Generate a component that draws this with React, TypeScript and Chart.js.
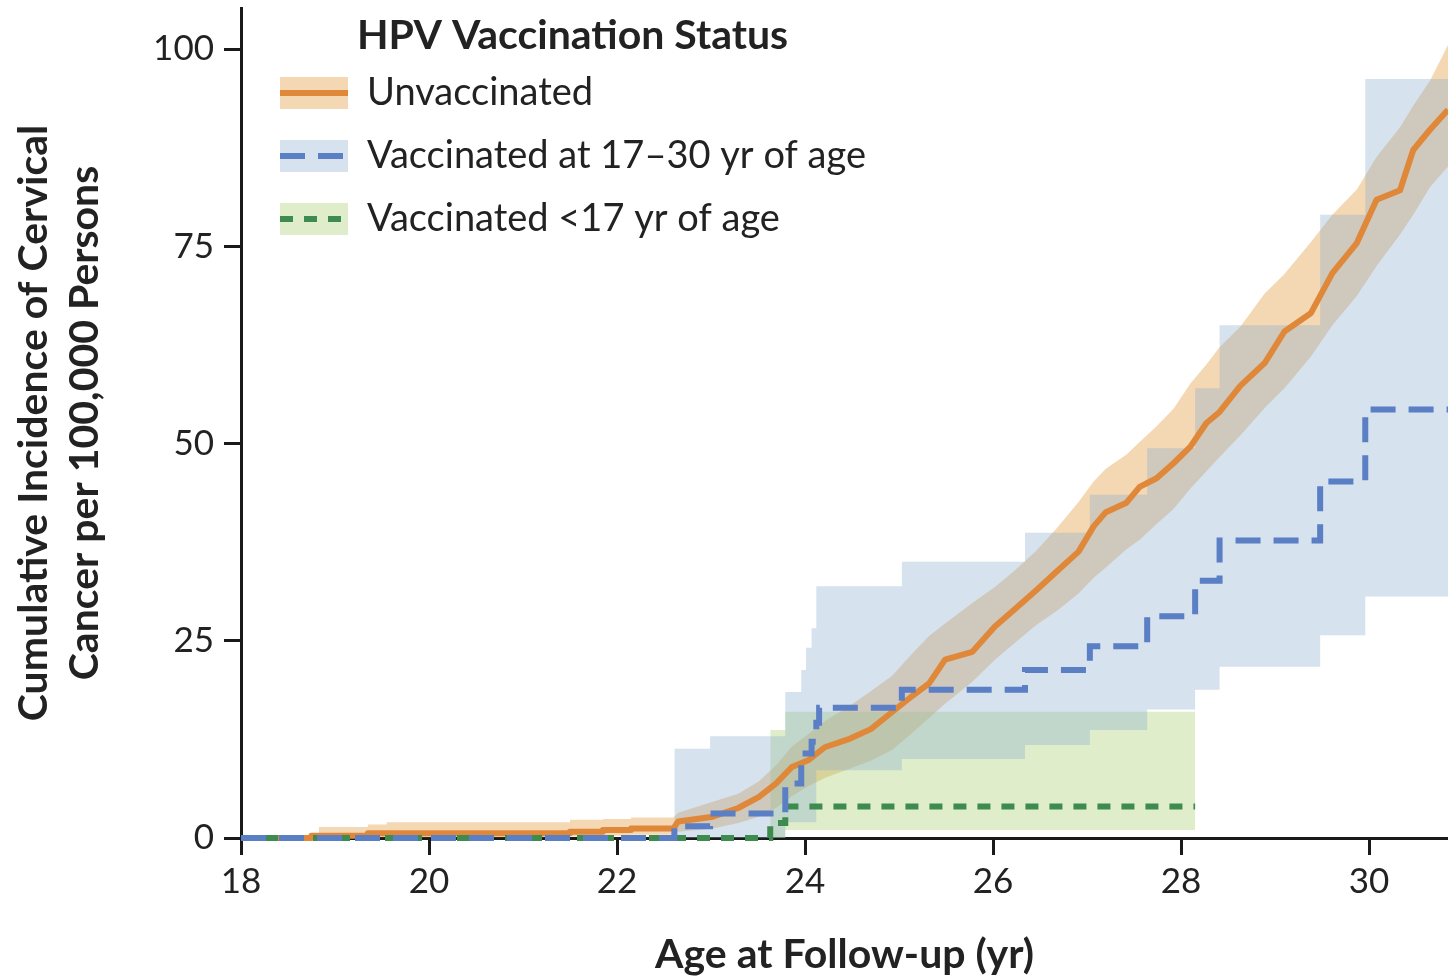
import React, { useEffect, useRef } from 'react';
import { Chart, registerables } from 'chart.js';

Chart.register(...registerables);

const FONT = 'Lato, "Open Sans", sans-serif';

// Axis ticks
const xTicks = [18, 20, 22, 24, 26, 28, 30];
const yTicks = [0, 25, 50, 75, 100];

// Unvaccinated: cumulative incidence and 95% CI
const unvAges = [18.0, 18.75, 18.75, 18.83, 18.83, 19.35, 19.35, 19.55, 19.55, 21.5, 21.5, 21.85, 21.85, 22.15, 22.15, 22.6, 22.65, 23.02, 23.29, 23.51, 23.69, 23.86, 24.04, 24.21, 24.48, 24.7, 24.93, 25.14, 25.32, 25.49, 25.78, 26.02, 26.24, 26.46, 26.68, 26.91, 27.07, 27.2, 27.42, 27.56, 27.74, 27.92, 28.1, 28.27, 28.41, 28.63, 28.89, 29.1, 29.38, 29.61, 29.87, 30.08, 30.33, 30.47, 30.65, 30.84];
const unvEst = [0, 0, 0.3, 0.3, 0.3, 0.3, 0.6, 0.6, 0.6, 0.6, 0.8, 0.8, 1.0, 1.0, 1.2, 1.2, 2.1, 2.7, 3.8, 5.2, 6.9, 9.0, 9.9, 11.5, 12.6, 13.8, 16.0, 18.0, 19.6, 22.6, 23.6, 26.8, 29.1, 31.4, 33.8, 36.3, 39.5, 41.3, 42.5, 44.5, 45.6, 47.5, 49.6, 52.6, 54.0, 57.3, 60.2, 64.2, 66.5, 71.6, 75.4, 80.9, 82.1, 87.2, 89.8, 92.3];
const unvLower = [0, 0, 0, 0, 0, 0, 0.1, 0.1, 0.1, 0.1, 0.2, 0.2, 0.3, 0.3, 0.4, 0.4, 0.8, 1.2, 1.9, 2.7, 3.8, 5.3, 6.6, 7.6, 8.8, 9.8, 11.2, 13.3, 15.2, 17.0, 19.8, 22.6, 24.8, 27.0, 28.8, 31.0, 33.0, 34.3, 36.6, 37.8, 39.8, 41.7, 44.3, 46.5, 48.3, 51.0, 54.5, 57.0, 61.0, 65.0, 68.7, 72.5, 76.5, 79.0, 82.5, 85.1];
const unvUpper = [0, 0, 0, 0, 1.4, 1.4, 1.7, 1.7, 2.0, 2.0, 2.3, 2.3, 2.4, 2.4, 2.6, 2.6, 3.2, 4.6, 5.6, 7.2, 9.2, 11.6, 13.2, 14.8, 16.8, 18.6, 20.6, 23.4, 25.6, 27.2, 29.8, 31.8, 34.0, 36.4, 39.3, 42.6, 45.2, 46.8, 48.6, 50.2, 52.2, 54.4, 57.6, 60.0, 62.2, 64.8, 69.0, 71.5, 75.5, 79.0, 82.2, 86.3, 90.1, 92.8, 96.0, 100.5];

// Vaccinated at 17-30 yr of age
const v1730Ages = [18.0, 22.61, 22.99, 23.79, 23.96, 24.07, 24.12, 24.15, 25.03, 26.34, 27.03, 27.64, 28.15, 28.41, 29.48, 29.96, 30.84];
const v1730Est = [0, 1.5, 3.1, 6.9, 10.7, 12.2, 14.6, 16.5, 18.8, 21.3, 24.3, 28.1, 32.6, 37.7, 45.2, 54.3, 54.3];
const v1730BandAges = [22.61, 22.99, 23.79, 23.96, 24.01, 24.07, 24.12, 25.03, 26.34, 27.03, 27.64, 28.15, 28.41, 29.48, 29.96, 30.84];
const v1730Lower = [0, 0, 2.0, 2.0, 2.0, 2.0, 8.6, 10.0, 11.8, 13.7, 16.3, 18.8, 21.7, 25.7, 30.6, 30.6];
const v1730Upper = [11.3, 12.9, 18.5, 21.3, 24.1, 26.6, 31.9, 35.0, 38.7, 43.5, 49.4, 57.0, 65.0, 79.0, 96.2, 96.2];

// Vaccinated <17 yr of age
const vU17Ages = [18.0, 23.63, 23.79, 28.15];
const vU17Est = [0, 1.9, 4.0, 4.0];
const vU17BandAges = [23.63, 23.79, 28.15];
const vU17Lower = [0, 1.0, 1.0];
const vU17Upper = [13.7, 16.0, 16.0];

const legendTitle = 'HPV Vaccination Status';
const legendLabels = ['Unvaccinated', 'Vaccinated at 17\u201330 yr of age', 'Vaccinated <17 yr of age'];

const ORANGE = '#E0883A';
const BLUE = '#5B7FC4';
const GREEN = '#3D8B4F';
const ORANGE_BAND = 'rgba(228,160,75,0.42)';
const BLUE_BAND = 'rgba(140,175,205,0.36)';
const GREEN_BAND = 'rgba(165,205,110,0.36)';
const TEXT = '#222222';
const AXIS = '#1a1a1a';

const pts = (xs: number[], ys: number[]) => xs.map((x, i) => ({ x, y: ys[i] }));

const legendPlugin = {
  id: 'hpvLegend',
  afterDraw(chart: any) {
    const ctx = chart.ctx as CanvasRenderingContext2D;
    ctx.save();
    ctx.textAlign = 'left';
    ctx.textBaseline = 'middle';
    ctx.fillStyle = TEXT;
    ctx.font = `bold 41px ${FONT}`;
    ctx.fillText(legendTitle, 357, 36);
    const fills = [ORANGE_BAND, BLUE_BAND, GREEN_BAND];
    const strokes = [ORANGE, BLUE, GREEN];
    const dashes = [[], [25, 13], [13, 11]];
    legendLabels.forEach((lab, i) => {
      const cy = 93 + i * 63;
      ctx.fillStyle = fills[i];
      ctx.fillRect(280, cy - 16, 68, 32);
      ctx.strokeStyle = strokes[i];
      ctx.lineWidth = 6;
      ctx.setLineDash(dashes[i]);
      ctx.beginPath();
      ctx.moveTo(280, cy);
      ctx.lineTo(348, cy);
      ctx.stroke();
      ctx.setLineDash([]);
      ctx.fillStyle = TEXT;
      ctx.font = `38px ${FONT}`;
      ctx.fillText(lab, 367, cy);
    });
    ctx.restore();
  },
};

export default function App() {
  const ref = useRef<HTMLCanvasElement | null>(null);
  useEffect(() => {
    document.body.style.margin = '0';
    if (!ref.current) return;
    const band = (label: string, xs: number[], ys: number[], color: string, fill: any, order: number, stepped: any) => ({
      label,
      data: pts(xs, ys),
      borderWidth: 0,
      borderColor: 'rgba(0,0,0,0)',
      backgroundColor: color,
      fill,
      pointRadius: 0,
      stepped,
      order,
    });
    const chart = new Chart(ref.current, {
      type: 'line',
      data: {
        datasets: [
          band('unvUpper', unvAges, unvUpper, ORANGE_BAND, '+1', 10, false),
          band('unvLower', unvAges, unvLower, ORANGE_BAND, false, 10, false),
          band('u17Upper', vU17BandAges, vU17Upper, GREEN_BAND, '+1', 9, 'before'),
          band('u17Lower', vU17BandAges, vU17Lower, GREEN_BAND, false, 9, 'before'),
          band('v1730Upper', v1730BandAges, v1730Upper, BLUE_BAND, '+1', 8, 'before'),
          band('v1730Lower', v1730BandAges, v1730Lower, BLUE_BAND, false, 8, 'before'),
          {
            label: legendLabels[0],
            data: pts(unvAges, unvEst),
            borderColor: ORANGE,
            borderWidth: 6,
            borderJoinStyle: 'round',
            pointRadius: 0,
            fill: false,
            order: 3,
            clip: { left: 5, top: 0, right: 0, bottom: 5 },
          },
          {
            label: legendLabels[2],
            data: pts(vU17Ages, vU17Est),
            borderColor: GREEN,
            borderWidth: 6,
            borderDash: [13, 11],
            stepped: 'before',
            pointRadius: 0,
            fill: false,
            order: 2,
            clip: { left: 5, top: 0, right: 0, bottom: 5 },
          },
          {
            label: legendLabels[1],
            data: pts(v1730Ages, v1730Est),
            borderColor: BLUE,
            borderWidth: 6,
            borderDash: [25, 13],
            stepped: 'before',
            pointRadius: 0,
            fill: false,
            order: 1,
            clip: { left: 5, top: 0, right: 0, bottom: 5 },
          },
        ] as any,
      },
      options: {
        responsive: false,
        maintainAspectRatio: false,
        animation: false,
        layout: { padding: { top: 8, left: 0, right: 0, bottom: 0 } },
        plugins: {
          legend: { display: false },
          tooltip: { enabled: false },
        },
        elements: { point: { radius: 0 }, line: { tension: 0 } },
        scales: {
          x: {
            type: 'linear',
            min: 18,
            max: 30.84,
            afterBuildTicks: (s: any) => {
              s.ticks = xTicks.map((v) => ({ value: v }));
            },
            afterFit: (s: any) => {
              s.height = 142;
              s.paddingLeft = 0;
              s.paddingRight = 0;
            },
            grid: { display: true, drawOnChartArea: false, drawTicks: true, tickLength: 17, tickWidth: 3, tickColor: AXIS },
            border: { display: true, color: AXIS, width: 3 },
            ticks: {
              autoSkip: false,
              maxRotation: 0,
              padding: 6,
              color: TEXT,
              font: { family: FONT, size: 35 },
              callback: (v: any) => String(v),
            },
            title: {
              display: true,
              text: 'Age at Follow-up (yr)',
              color: TEXT,
              font: { family: FONT, size: 41, weight: 'bold' },
              padding: { top: 0, bottom: 1 },
            },
          },
          y: {
            type: 'linear',
            min: 0,
            max: 105.2,
            afterBuildTicks: (s: any) => {
              s.ticks = yTicks.map((v) => ({ value: v }));
            },
            afterFit: (s: any) => {
              s.width = 241;
              s.paddingTop = 0;
              s.paddingBottom = 0;
            },
            grid: { display: true, drawOnChartArea: false, drawTicks: true, tickLength: 17, tickWidth: 3, tickColor: AXIS },
            border: { display: true, color: AXIS, width: 3 },
            ticks: {
              padding: 10,
              color: TEXT,
              font: { family: FONT, size: 35 },
              callback: (v: any) => String(v),
            },
            title: {
              display: true,
              text: ['Cumulative Incidence of Cervical', 'Cancer per 100,000 Persons'],
              color: TEXT,
              font: { family: FONT, size: 41, weight: 'bold', lineHeight: 1.23 },
              padding: { top: 9, bottom: 0 },
            },
          },
        },
      } as any,
      plugins: [legendPlugin],
    });
    return () => chart.destroy();
  }, []);
  return (
    <div style={{ width: 1448, height: 980, background: '#fff' }}>
      <canvas ref={ref} width={1448} height={980} style={{ display: 'block' }} />
    </div>
  );
}
